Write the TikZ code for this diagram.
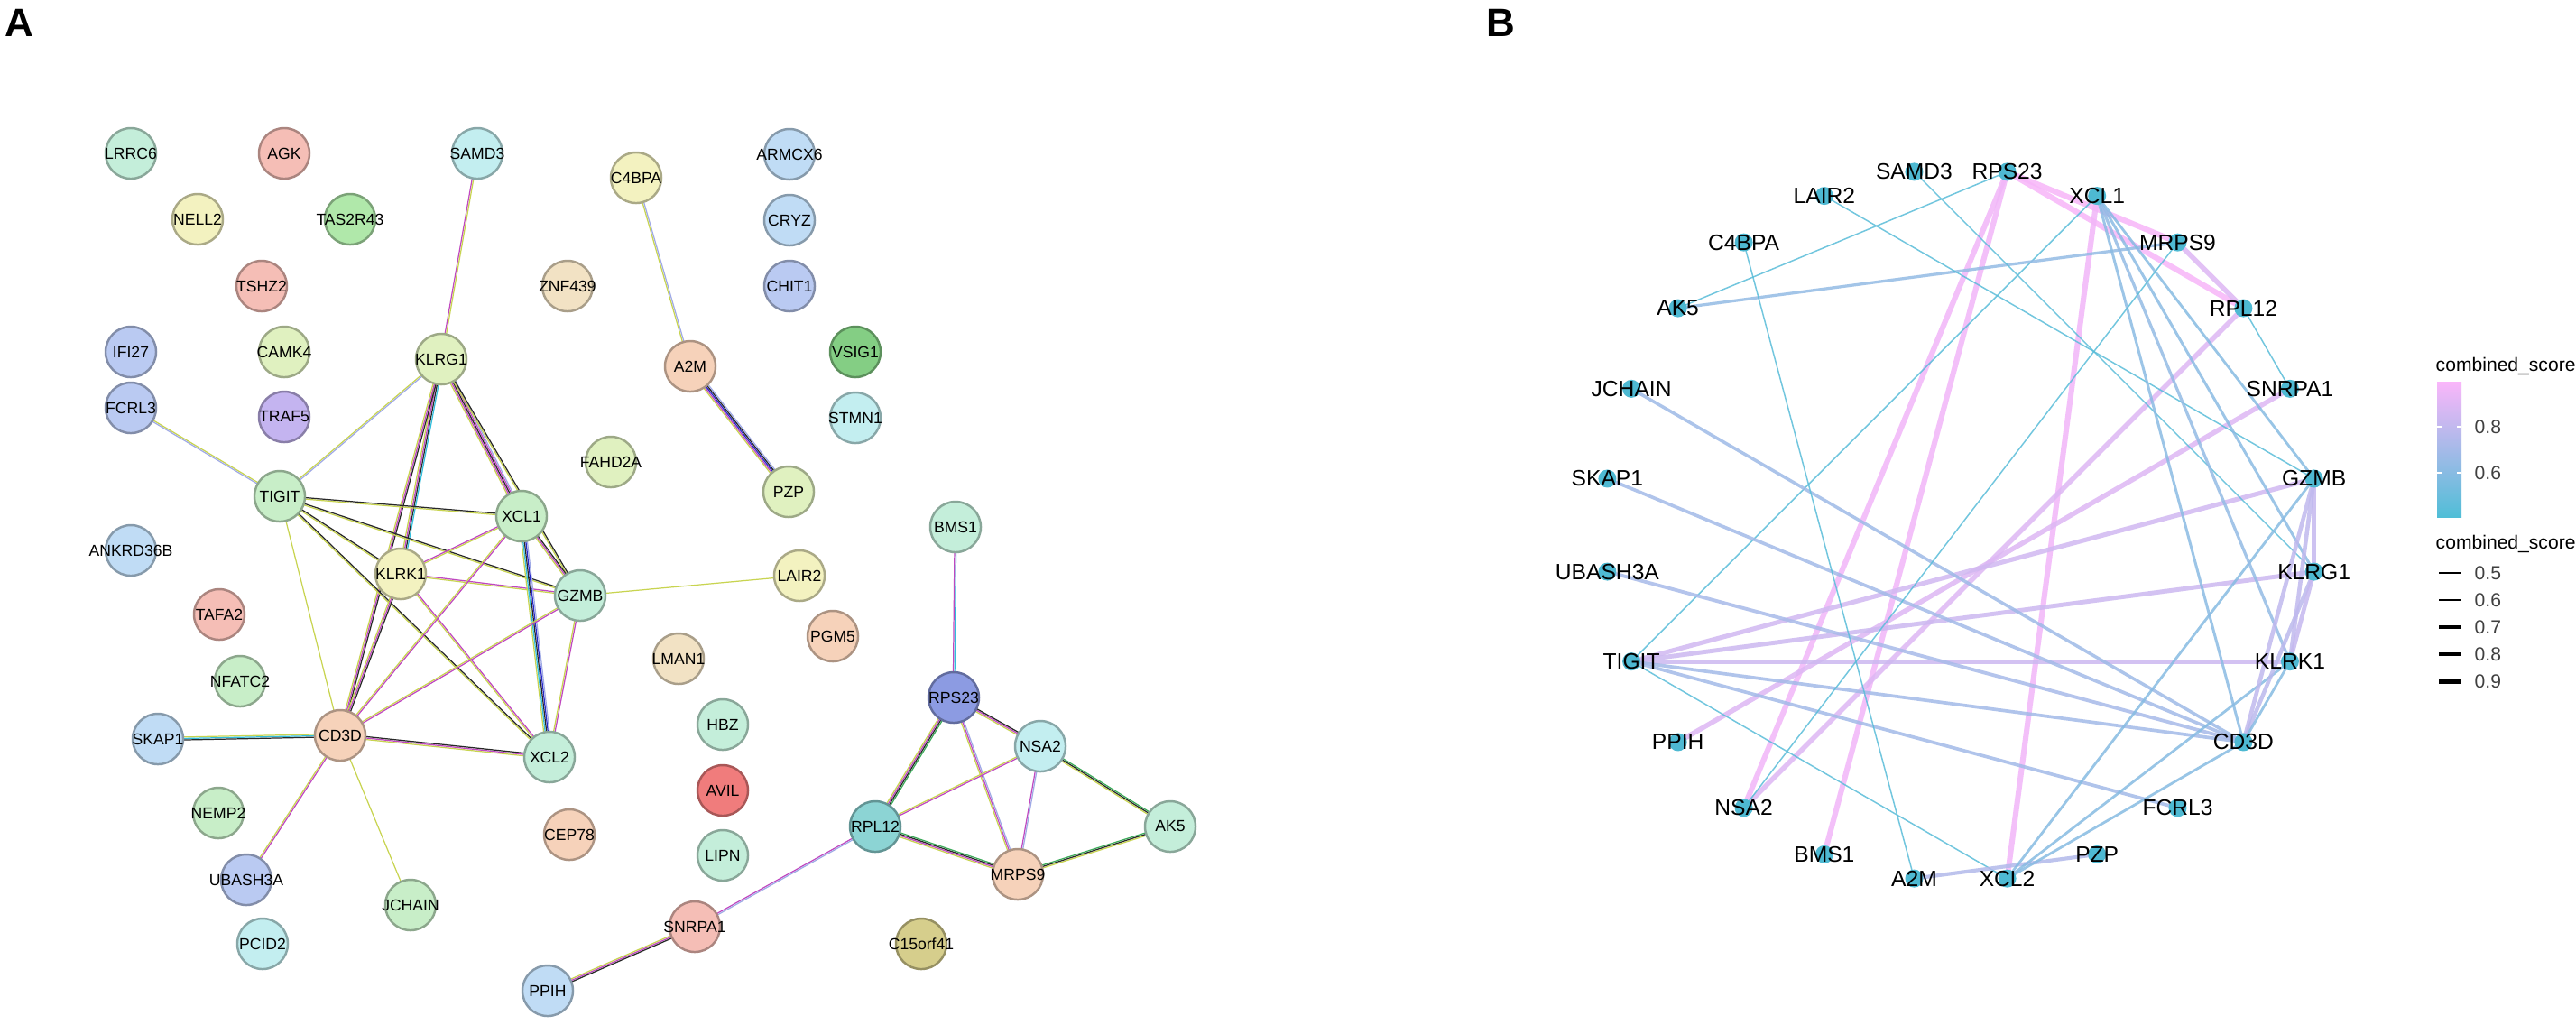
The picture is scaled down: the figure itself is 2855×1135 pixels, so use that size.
\documentclass[tikz,border=0pt]{standalone}
\usepackage{fontspec}
\setmainfont{Liberation Sans}
\usetikzlibrary{calc}

% protein fills (panel A)
\definecolor{pgreen}{RGB}{200,238,200}
\definecolor{plime}{RGB}{224,241,192}
\definecolor{pyellow}{RGB}{243,242,192}
\definecolor{pcyan}{RGB}{195,238,240}
\definecolor{pblue}{RGB}{192,220,245}
\definecolor{pperi}{RGB}{186,202,242}
\definecolor{psalmon}{RGB}{245,190,182}
\definecolor{ppeach}{RGB}{246,210,186}
\definecolor{pmint}{RGB}{196,238,218}
\definecolor{ptan}{RGB}{242,226,196}
\definecolor{ppurple}{RGB}{196,180,240}
\definecolor{pvsig}{RGB}{132,206,132}
\definecolor{pred}{RGB}{240,124,124}
\definecolor{pnavy}{RGB}{140,155,226}
\definecolor{pteal}{RGB}{140,212,212}
\definecolor{polive}{RGB}{214,206,140}
\definecolor{ptas}{RGB}{176,232,170}
% evidence lines (panel A)
\definecolor{etext}{RGB}{200,212,80}
\definecolor{eexp}{RGB}{192,72,192}
\definecolor{edb}{RGB}{50,190,220}
\definecolor{ecoex}{RGB}{40,40,40}
\definecolor{ehom}{RGB}{160,170,230}
\definecolor{enbh}{RGB}{60,170,90}
\definecolor{eocc}{RGB}{40,40,200}
% score scale (panel B)
\definecolor{slo}{RGB}{80,190,215}
\definecolor{shi}{RGB}{250,182,250}
\definecolor{bnode}{RGB}{78,185,210}

\pgfdeclarelayer{paper}
\pgfdeclarelayer{links}
\pgfsetlayers{paper,links,main}

\tikzset{
  prot/.style={circle, minimum size=0.56cm, inner sep=0pt, fill=#1, draw=#1!70!black,
    line width=0.7pt},
  pname/.style={font=\fontsize{5}{6}\selectfont, inner sep=0pt},
  bdot/.style={circle, minimum size=0.2cm, inner sep=0pt, fill=bnode},
  blabel/.style={font=\fontsize{7}{8}\selectfont, inner sep=0pt},
  panel/.style={font=\fontsize{12.5}{14}\selectfont\bfseries, inner sep=0pt},
  legtext/.style={font=\fontsize{6}{7}\selectfont, anchor=west, inner sep=0pt}
}

% one bundle of evidence lines between two proteins
\newcommand{\sedge}[3]{%
  \foreach \c [count=\k] in {#3} {\xdef\nlines{\k}}%
  \foreach \c [count=\k] in {#3} {%
    \pgfmathsetlengthmacro{\off}{(\k-(\nlines+1)/2)*0.45pt}%
    \draw[\c, line width=0.35pt] ($(#1)!\off!90:(#2)$) -- ($(#2)!\off!-90:(#1)$);
  }%
}

\begin{document}
\begin{tikzpicture}[x=0.01cm, y=-0.01cm]
  \begin{pgfonlayer}{paper}
    \fill[white] (0,0) rectangle (2855,1135);
  \end{pgfonlayer}
  \useasboundingbox (0,0) rectangle (2855,1135);

  % panel labels
  \node[panel, anchor=west] (labA) at (5,25) {A};
  \node[panel] (labB) at (1663,25) {B};

  % panel A: proteins
  \foreach \n/\x/\y/\c in {LRRC6/145/170/pmint, AGK/315/170/psalmon, SAMD3/529/170/pcyan,
      C4BPA/705/197/pyellow, ARMCX6/875/171/pblue, NELL2/219/243/pyellow,
      TAS2R43/388/243/ptas, CRYZ/875/244/pblue, TSHZ2/290/317/psalmon,
      ZNF439/629/317/ptan, CHIT1/875/317/pperi, IFI27/145/390/pperi,
      CAMK4/315/390/plime, KLRG1/489/398/plime, A2M/765/406/ppeach,
      VSIG1/948/390/pvsig, FCRL3/145/452/pperi, TRAF5/315/462/ppurple,
      STMN1/948/463/pcyan, FAHD2A/677/512/plime, TIGIT/310/550/pgreen,
      PZP/874/545/plime, XCL1/578/572/pgreen, BMS1/1059/584/pmint,
      ANKRD36B/145/610/pblue, KLRK1/444/636/pyellow, LAIR2/886/638/pyellow,
      GZMB/643/660/pmint, TAFA2/243/681/psalmon, PGM5/923/705/ppeach,
      LMAN1/752/730/ptan, NFATC2/266/755/pgreen, RPS23/1057/773/pnavy,
      HBZ/801/803/pmint, SKAP1/175/819/pblue, CD3D/377/815/ppeach,
      XCL2/609/839/pmint, NSA2/1153/827/pcyan, AVIL/801/876/pred,
      NEMP2/242/901/pgreen, CEP78/631/925/ppeach, RPL12/970/916/pteal,
      AK5/1297/916/pmint, LIPN/801/948/pmint, MRPS9/1128/969/ppeach,
      UBASH3A/273/975/pperi, JCHAIN/455/1003/pgreen, SNRPA1/770/1027/psalmon,
      C15orf41/1021/1046/polive, PCID2/291/1046/pcyan, PPIH/607/1098/pblue}
    \node[prot=\c, label={[pname]center:\n}] (a\n) at (\x,\y) {};

  % panel A: evidence bundles
  \begin{pgfonlayer}{links}
    \sedge{aSAMD3}{aKLRG1}{eexp,etext}
    \sedge{aKLRG1}{aTIGIT}{etext,ehom}
    \sedge{aKLRG1}{aKLRK1}{etext,eexp,ecoex,edb}
    \sedge{aKLRG1}{aXCL1}{etext,eexp,ecoex,eexp,ehom}
    \sedge{aKLRG1}{aGZMB}{etext,ecoex}
    \sedge{aKLRG1}{aCD3D}{etext,eexp,ecoex}
    \sedge{aTIGIT}{aFCRL3}{etext,ehom}
    \sedge{aTIGIT}{aXCL1}{etext,ecoex}
    \sedge{aTIGIT}{aKLRK1}{etext,ecoex}
    \sedge{aTIGIT}{aGZMB}{etext,ecoex}
    \sedge{aTIGIT}{aCD3D}{etext}
    \sedge{aTIGIT}{aXCL2}{etext,ecoex}
    \sedge{aKLRK1}{aXCL1}{etext,eexp}
    \sedge{aKLRK1}{aGZMB}{etext,eexp}
    \sedge{aKLRK1}{aCD3D}{etext,eexp,ecoex}
    \sedge{aKLRK1}{aXCL2}{etext,eexp}
    \sedge{aXCL1}{aGZMB}{etext,eexp,ecoex}
    \sedge{aXCL1}{aXCL2}{etext,edb,ecoex,eocc,ehom}
    \sedge{aXCL1}{aCD3D}{etext,eexp}
    \sedge{aGZMB}{aXCL2}{etext,eexp}
    \sedge{aGZMB}{aCD3D}{etext,eexp}
    \sedge{aGZMB}{aLAIR2}{etext}
    \sedge{aCD3D}{aXCL2}{etext,eexp,ecoex}
    \sedge{aCD3D}{aSKAP1}{etext,edb,ecoex}
    \sedge{aCD3D}{aUBASH3A}{etext,eexp}
    \sedge{aCD3D}{aJCHAIN}{etext}
    \sedge{aC4BPA}{aA2M}{etext,ehom}
    \sedge{aA2M}{aPZP}{etext,eexp,eocc,ecoex,ehom}
    \sedge{aBMS1}{aRPS23}{eexp,edb}
    \sedge{aRPS23}{aNSA2}{etext,eexp,ecoex}
    \sedge{aRPS23}{aRPL12}{etext,eexp,ecoex,enbh}
    \sedge{aRPS23}{aMRPS9}{etext,eexp,ehom}
    \sedge{aNSA2}{aRPL12}{etext,eexp}
    \sedge{aNSA2}{aMRPS9}{eexp,ehom}
    \sedge{aNSA2}{aAK5}{etext,ecoex,enbh}
    \sedge{aRPL12}{aMRPS9}{etext,eexp,ecoex,enbh}
    \sedge{aMRPS9}{aAK5}{etext,ecoex,enbh}
    \sedge{aRPL12}{aSNRPA1}{eexp,ehom}
    \sedge{aSNRPA1}{aPPIH}{etext,eexp,ecoex}
  \end{pgfonlayer}

  % panel B: circle layout
  \begin{scope}[shift={(2173,582)}]
    \foreach \n [count=\i] in {RPS23,SAMD3,LAIR2,C4BPA,AK5,JCHAIN,SKAP1,UBASH3A,TIGIT,
        PPIH,NSA2,BMS1,A2M,XCL2,PZP,FCRL3,CD3D,KLRK1,KLRG1,GZMB,SNRPA1,RPL12,MRPS9,XCL1}
      \node[bdot] (b\n) at ({-(67.5+15*\i)}:395) {};
  \end{scope}
  \foreach \n in {RPS23,SAMD3,LAIR2,C4BPA,AK5,JCHAIN,SKAP1,UBASH3A,TIGIT,
      PPIH,NSA2,BMS1,A2M,XCL2,PZP,FCRL3,CD3D,KLRK1,KLRG1,GZMB,SNRPA1,RPL12,MRPS9,XCL1}
    \node[blabel] at (b\n) {\n};

  % panel B: edges by score
  \begin{pgfonlayer}{links}
    \foreach \u/\v/\s in {RPS23/MRPS9/0.99, RPS23/RPL12/0.99, MRPS9/RPL12/0.9,
        RPS23/NSA2/0.97, RPS23/BMS1/0.97, XCL1/XCL2/0.97, RPL12/NSA2/0.9,
        SNRPA1/PPIH/0.9, GZMB/TIGIT/0.86, KLRG1/TIGIT/0.84, KLRK1/TIGIT/0.84,
        TIGIT/CD3D/0.7, TIGIT/FCRL3/0.7, TIGIT/XCL2/0.45, TIGIT/XCL1/0.45,
        JCHAIN/CD3D/0.68, SKAP1/CD3D/0.7, UBASH3A/CD3D/0.72, AK5/MRPS9/0.65,
        AK5/RPS23/0.45, C4BPA/A2M/0.45, LAIR2/GZMB/0.45, SAMD3/KLRG1/0.45,
        A2M/PZP/0.75, XCL2/CD3D/0.6, XCL2/KLRK1/0.6, XCL2/GZMB/0.6,
        XCL1/GZMB/0.6, XCL1/KLRG1/0.62, XCL1/KLRK1/0.65, XCL1/CD3D/0.62,
        NSA2/MRPS9/0.45, RPL12/SNRPA1/0.45, GZMB/CD3D/0.8, KLRG1/CD3D/0.78,
        KLRK1/CD3D/0.6, GZMB/KLRG1/0.82, GZMB/KLRK1/0.8, KLRG1/KLRK1/0.82} {
      \pgfmathtruncatemacro{\p}{(\s-0.41)/0.586*100}
      \pgfmathsetmacro{\w}{0.3+(\s-0.4)*2.5}
      \colorlet{ecol}{shi!\p!slo}
      \draw[ecol, line width=\w pt, opacity=0.85] (b\u.center) -- (b\v.center);
    }
  \end{pgfonlayer}

  % legend: colour
  \node[legtext] (ltitle1) at (2699,406) {combined\_score};
  \shade[bottom color=slo, top color=shi] (2701,423) rectangle (2728,573);
  \foreach \v/\yy in {0.8/473, 0.6/524} {
    \draw[white, line width=0.6pt] (2701,\yy) -- (2706,\yy) (2723,\yy) -- (2728,\yy);
    \node[legtext, text=black!75] at (2742,\yy) {\v};
  }
  % legend: width
  \node[legtext] (ltitle2) at (2699,603) {combined\_score};
  \foreach \s [count=\i] in {0.5,0.6,0.7,0.8,0.9} {
    \pgfmathsetmacro{\w}{0.3+(\s-0.4)*2.5}
    \draw[line width=\w pt] (2703,{605+30*\i}) -- (2728,{605+30*\i});
    \node[legtext, text=black!75] at (2742,{605+30*\i}) {\s};
  }
\end{tikzpicture}
\end{document}
